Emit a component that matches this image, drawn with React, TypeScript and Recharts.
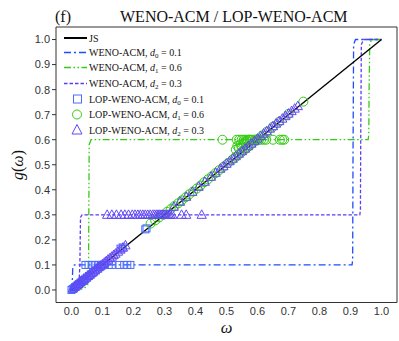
import React from 'react';
import { ComposedChart, Line, Scatter, XAxis, YAxis, Legend, Label } from 'recharts';

// ---------- tick labels ----------
const xTicks = [0, 0.1, 0.2, 0.3, 0.4, 0.5, 0.6, 0.7, 0.8, 0.9, 1.0];
const yTicks = [0, 0.1, 0.2, 0.3, 0.4, 0.5, 0.6, 0.7, 0.8, 0.9, 1.0];

// ---------- line series ----------
const jsW = [0, 1];
const jsG = [0, 1];

const acm0W = [0, 0.002, 0.003, 0.004, 0.006, 0.010, 0.905, 0.907, 0.908, 0.910, 0.916, 1.0];
const acm0G = [0, 0.02, 0.05, 0.085, 0.098, 0.1, 0.1, 0.12, 0.5, 0.98, 1.0, 1.0];

const acm1W = [0, 0.04, 0.052, 0.055, 0.057, 0.063, 0.957, 0.959, 0.960, 0.962, 0.968, 1.0];
const acm1G = [0, 0.005, 0.02, 0.1, 0.58, 0.6, 0.6, 0.62, 0.8, 0.98, 1.0, 1.0];

const acm2W = [0, 0.015, 0.024, 0.027, 0.029, 0.034, 0.930, 0.932, 0.933, 0.935, 0.942, 1.0];
const acm2G = [0, 0.005, 0.02, 0.1, 0.29, 0.3, 0.3, 0.32, 0.6, 0.98, 1.0, 1.0];

// ---------- marker series ----------
const lop0W = [
  0, 0.004, 0.008, 0.012, 0.016, 0.02, 0.024, 0.028, 0.032, 0.036, 0.04, 0.045, 0.05, 0.056, 0.062, 0.07, 0.078, 0.086, 0.094, 0.1,
  0.045, 0.055, 0.065, 0.075, 0.085, 0.095, 0.105, 0.12, 0.13, 0.155, 0.17, 0.18, 0.19,
  0.158, 0.165, 0.238, 0.242,
];
const lop0G = [
  0, 0.004, 0.007, 0.012, 0.015, 0.02, 0.024, 0.027, 0.032, 0.036, 0.04, 0.045, 0.05, 0.056, 0.062, 0.07, 0.078, 0.086, 0.094, 0.1,
  0.1, 0.1, 0.1, 0.1, 0.1, 0.1, 0.1, 0.1, 0.1, 0.1, 0.1, 0.1, 0.1,
  0.165, 0.17, 0.242, 0.246,
];

const lop1W = [
  0.255, 0.27, 0.283, 0.296, 0.308, 0.32, 0.332, 0.344, 0.356, 0.368, 0.38, 0.392, 0.404, 0.416, 0.428, 0.44, 0.452, 0.464, 0.476,
  0.49, 0.505, 0.52, 0.53, 0.54, 0.55, 0.56, 0.57, 0.58, 0.59, 0.6, 0.615, 0.63, 0.65, 0.67, 0.7, 0.748,
  0.487, 0.533, 0.541, 0.549, 0.556, 0.563, 0.57, 0.577, 0.584, 0.591, 0.598, 0.605, 0.612, 0.62, 0.628, 0.65, 0.672, 0.68, 0.686,
  0.535, 0.545, 0.555, 0.56, 0.53, 0.54, 0.55, 0.565, 0.575,
];
const lop1G = [
  0.265, 0.278, 0.29, 0.3, 0.312, 0.323, 0.335, 0.346, 0.358, 0.37, 0.382, 0.393, 0.405, 0.417, 0.43, 0.442, 0.454, 0.466, 0.478,
  0.492, 0.507, 0.522, 0.532, 0.542, 0.552, 0.562, 0.572, 0.582, 0.592, 0.602, 0.617, 0.632, 0.652, 0.672, 0.703, 0.752,
  0.6, 0.6, 0.6, 0.6, 0.6, 0.6, 0.6, 0.6, 0.6, 0.6, 0.6, 0.6, 0.6, 0.6, 0.6, 0.6, 0.6, 0.6, 0.6,
  0.575, 0.58, 0.585, 0.59, 0.56, 0.565, 0.57, 0.595, 0.6,
];

const lop2W = [
  0.004, 0.01, 0.016, 0.022, 0.028, 0.034, 0.04, 0.046, 0.052, 0.058, 0.064, 0.07, 0.076, 0.082, 0.088, 0.094, 0.1, 0.106, 0.112,
  0.118, 0.124, 0.13, 0.136, 0.142, 0.15, 0.158, 0.166, 0.174,
  0.115, 0.13, 0.145, 0.16, 0.172, 0.184, 0.196, 0.205, 0.214, 0.222, 0.23, 0.238, 0.246, 0.254, 0.262, 0.268, 0.274, 0.279,
  0.284, 0.289, 0.294, 0.299, 0.304, 0.309, 0.314, 0.319, 0.325, 0.355, 0.37, 0.42,
  0.33, 0.35, 0.37, 0.39, 0.41, 0.43, 0.45, 0.465, 0.48, 0.49, 0.5, 0.51, 0.52, 0.53, 0.54, 0.55, 0.56, 0.57, 0.58, 0.59, 0.6,
  0.61, 0.62, 0.63, 0.64, 0.65, 0.66, 0.67, 0.68, 0.69, 0.7, 0.71, 0.72, 0.73,
];
const lop2G = [
  0.006, 0.012, 0.018, 0.024, 0.031, 0.037, 0.043, 0.049, 0.055, 0.061, 0.067, 0.073, 0.079, 0.085, 0.091, 0.097, 0.103, 0.109, 0.115,
  0.121, 0.127, 0.133, 0.139, 0.145, 0.153, 0.161, 0.169, 0.178,
  0.3, 0.3, 0.3, 0.3, 0.3, 0.3, 0.3, 0.3, 0.3, 0.3, 0.3, 0.3, 0.3, 0.3, 0.3, 0.3, 0.3, 0.3,
  0.3, 0.3, 0.3, 0.3, 0.3, 0.3, 0.3, 0.3, 0.3, 0.3, 0.3, 0.3,
  0.332, 0.352, 0.372, 0.392, 0.412, 0.432, 0.452, 0.468, 0.484, 0.494, 0.504, 0.514, 0.524, 0.534, 0.544, 0.554, 0.564, 0.574, 0.584, 0.594, 0.604,
  0.614, 0.624, 0.634, 0.644, 0.654, 0.664, 0.674, 0.684, 0.694, 0.704, 0.714, 0.724, 0.734,
];

// ---------- legend ----------
const legendNames = ['JS', 'WENO-ACM, ', 'WENO-ACM, ', 'WENO-ACM, ', 'LOP-WENO-ACM, ', 'LOP-WENO-ACM, ', 'LOP-WENO-ACM, '];
const legendSubs = ['', '0', '1', '2', '0', '1', '2'];
const legendVals = ['', ' = 0.1', ' = 0.6', ' = 0.3', ' = 0.1', ' = 0.6', ' = 0.3'];

const C_JS = '#000000';
const C_D0 = '#1f4cff';
const C_D1 = '#33cc11';
const C_D2 = '#5a3cf2';
const C_SQ = '#4a6cff';
const C_CI = '#33cc11';
const C_TR = '#6248f5';

const DASH_D0 = '7 3 2 3';
const DASH_D1 = '7 2.5 1.5 2.5 1.5 2.5';
const DASH_D2 = '3.5 2';

const zip = (w: number[], g: number[]) => w.map((v, i) => ({ w: v, g: g[i] }));

const jsData = zip(jsW, jsG);
const acm0 = zip(acm0W, acm0G);
const acm1 = zip(acm1W, acm1G);
const acm2 = zip(acm2W, acm2G);
const lop0 = zip(lop0W, lop0G);
const lop1 = zip(lop1W, lop1G);
const lop2 = zip(lop2W, lop2G);

const SERIF = "'Liberation Serif', 'Times New Roman', serif";
const SANS = "'Liberation Sans', Arial, sans-serif";

const SquareShape = (p: any) => (
  <rect x={p.cx - 3.5} y={p.cy - 3.5} width={7} height={7} fill="none" stroke={C_SQ} strokeWidth={1} />
);
const CircleShape = (p: any) => (
  <circle cx={p.cx} cy={p.cy} r={4.5} fill="none" stroke={C_CI} strokeWidth={1} />
);
const TriShape = (p: any) => (
  <polygon
    points={`${p.cx},${p.cy - 5} ${p.cx - 4.6},${p.cy + 3.5} ${p.cx + 4.6},${p.cy + 3.5}`}
    fill="none"
    stroke={C_TR}
    strokeWidth={1}
  />
);

const rowY = [8, 22.5, 37.5, 53.5, 69, 84.5, 100];

const LegendBox = () => (
  <svg width={170} height={110} style={{ display: 'block', overflow: 'visible' }}>
    <line x1={4} x2={27} y1={rowY[0]} y2={rowY[0]} stroke={C_JS} strokeWidth={2} />
    <line x1={4} x2={27} y1={rowY[1]} y2={rowY[1]} stroke={C_D0} strokeWidth={1.3} strokeDasharray={DASH_D0} />
    <line x1={4} x2={27} y1={rowY[2]} y2={rowY[2]} stroke={C_D1} strokeWidth={1.5} strokeDasharray={DASH_D1} />
    <line x1={4} x2={27} y1={rowY[3]} y2={rowY[3]} stroke={C_D2} strokeWidth={1.3} strokeDasharray={DASH_D2} />
    <rect x={13.5} y={rowY[4] - 4} width={8} height={8} fill="none" stroke={C_SQ} strokeWidth={1} />
    <circle cx={17} cy={rowY[5]} r={4.5} fill="none" stroke={C_CI} strokeWidth={1} />
    <polygon
      points={`17,${rowY[6] - 5.5} 12,${rowY[6] + 4} 22,${rowY[6] + 4}`}
      fill="none"
      stroke={C_TR}
      strokeWidth={1}
    />
    {legendNames.map((n, i) => (
      <text key={i} x={29} y={rowY[i] + 3.5} fontFamily={SERIF} fontSize={10} fill="#111">
        {n}
        {legendSubs[i] !== '' && <tspan fontStyle="italic">d</tspan>}
        {legendSubs[i] !== '' && (
          <tspan fontSize={7} dy={2}>
            {legendSubs[i]}
          </tspan>
        )}
        {legendSubs[i] !== '' && <tspan dy={-2}>{legendVals[i]}</tspan>}
      </text>
    ))}
  </svg>
);

const fmt = (v: number) => v.toFixed(1);

const XLab = () => (
  <text x={226.5} y={333} textAnchor="middle" fontFamily={SERIF} fontStyle="italic" fontSize={16.5} fill="#111">
    ω
  </text>
);
const YLab = () => (
  <text
    transform="translate(23,165) rotate(-90)"
    textAnchor="middle"
    fontFamily={SERIF}
    fontSize={16}
    fill="#111"
  >
    <tspan fontStyle="italic">g</tspan>(<tspan fontStyle="italic">ω</tspan>)
  </text>
);
const TitleLab = () => (
  <g fontFamily={SERIF} fontSize={16} fill="#111">
    <text x={55} y={22}>(f)</text>
    <text x={120} y={22}>WENO-ACM / LOP-WENO-ACM</text>
  </g>
);

const axisStroke = { stroke: '#333', strokeWidth: 1 };
const tickFont = { fontSize: 11, fill: '#333', fontFamily: SANS };

export default function App() {
  return (
    <div style={{ position: 'absolute', left: 0, top: 0, width: 399, height: 341, background: '#fff' }}>
      <ComposedChart width={399} height={341} margin={{ top: 27, right: 2, bottom: 8.5, left: 0 }}>
        <XAxis
          type="number"
          dataKey="w"
          domain={[-0.05, 1.05]}
          ticks={xTicks}
          interval={0}
          allowDataOverflow
          tickFormatter={fmt}
          height={30}
          tickLine={false}
          tickSize={4}
          tickMargin={1}
          axisLine={axisStroke}
          tick={tickFont}
        >
          <Label content={XLab} />
        </XAxis>
        <XAxis
          xAxisId="bm"
          type="number"
          dataKey="w"
          orientation="bottom"
          mirror
          height={1}
          domain={[-0.05, 1.05]}
          ticks={xTicks}
          interval={0}
          allowDataOverflow
          tick={false}
          tickSize={4}
          tickLine={axisStroke}
          axisLine={axisStroke}
        />
        <XAxis
          xAxisId="top"
          type="number"
          dataKey="w"
          orientation="top"
          mirror
          height={1}
          domain={[-0.05, 1.05]}
          ticks={xTicks}
          interval={0}
          allowDataOverflow
          tick={false}
          tickSize={4}
          tickLine={axisStroke}
          axisLine={axisStroke}
        >
          <Label content={TitleLab} />
        </XAxis>
        <YAxis
          type="number"
          dataKey="g"
          domain={[-0.05, 1.05]}
          ticks={yTicks}
          interval={0}
          allowDataOverflow
          tickFormatter={fmt}
          width={56}
          tickSize={4}
          tickMargin={2}
          tickLine={axisStroke}
          axisLine={axisStroke}
          tick={tickFont}
        >
          <Label content={YLab} />
        </YAxis>
        <YAxis
          yAxisId="r"
          type="number"
          dataKey="g"
          orientation="right"
          mirror
          width={1}
          domain={[-0.05, 1.05]}
          ticks={yTicks}
          interval={0}
          allowDataOverflow
          tick={false}
          tickSize={4}
          tickLine={axisStroke}
          axisLine={axisStroke}
        />

        <Scatter data={lop0} dataKey="g" shape={SquareShape} isAnimationActive={false} legendType="none" />
        <Scatter data={lop1} dataKey="g" shape={CircleShape} isAnimationActive={false} legendType="none" />
        <Scatter data={lop2} dataKey="g" shape={TriShape} isAnimationActive={false} legendType="none" />

        <Line data={acm0} dataKey="g" type="linear" stroke={C_D0} strokeWidth={1.3} strokeDasharray={DASH_D0} dot={false} activeDot={false} isAnimationActive={false} legendType="none" />
        <Line data={acm1} dataKey="g" type="linear" stroke={C_D1} strokeWidth={1.3} strokeDasharray={DASH_D1} dot={false} activeDot={false} isAnimationActive={false} legendType="none" />
        <Line data={acm2} dataKey="g" type="linear" stroke={C_D2} strokeWidth={1.3} strokeDasharray={DASH_D2} dot={false} activeDot={false} isAnimationActive={false} legendType="none" />
        <Line data={jsData} dataKey="g" type="linear" stroke={C_JS} strokeWidth={1.4} dot={false} activeDot={false} isAnimationActive={false} legendType="none" />

        <Legend
          content={LegendBox}
          layout="vertical"
          align="center"
          verticalAlign="middle"
          wrapperStyle={{ left: 60, top: 30, width: 170, height: 110 }}
        />
      </ComposedChart>
    </div>
  );
}
